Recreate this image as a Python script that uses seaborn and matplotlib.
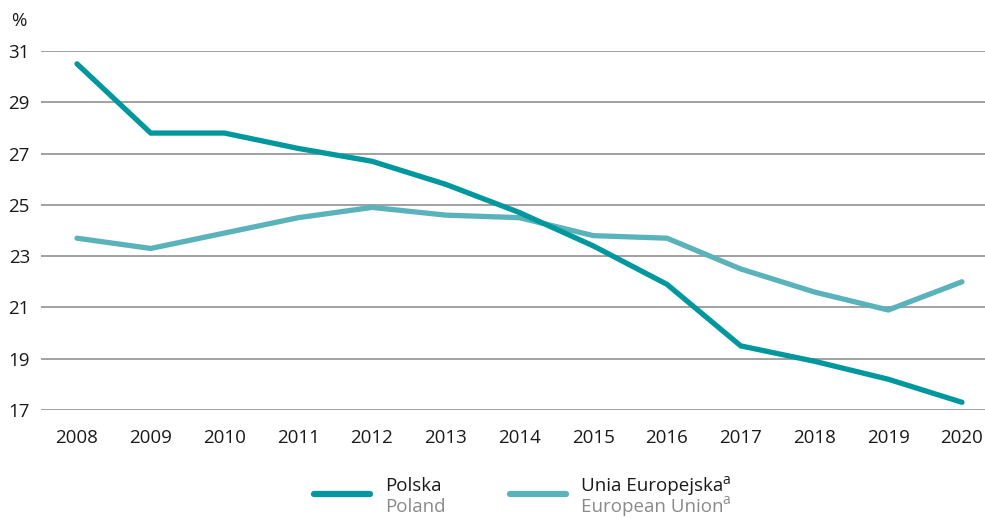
import matplotlib
matplotlib.use("Agg")
import matplotlib.pyplot as plt
import seaborn as sns
import pandas as pd
from matplotlib.lines import Line2D

years = list(range(2008, 2021))
poland = [30.5, 27.8, 27.8, 27.2, 26.7, 25.8, 24.7, 23.4, 21.9, 19.5, 18.9, 18.2, 17.3]
eu = [23.7, 23.3, 23.9, 24.5, 24.9, 24.6, 24.5, 23.8, 23.7, 22.5, 21.6, 20.9, 22.0]
y_ticks = [17, 19, 21, 23, 25, 27, 29, 31]

c_pl = "#00979e"
c_eu = "#5ab3bb"

df = pd.DataFrame({
    "year": years * 2,
    "value": poland + eu,
    "series": ["Polska"] * len(years) + ["Unia Europejska"] * len(years),
})

sns.set_style("white")
plt.rcParams["font.family"] = ["Open Sans", "DejaVu Sans"]
FS = 13.5

fig = plt.figure(figsize=(9.85, 5.18), dpi=100)
ax = fig.add_axes([41 / 985, 1 - 410 / 518, 944 / 985, 359 / 518])

sns.lineplot(data=df, x="year", y="value", hue="series",
             palette={"Polska": c_pl, "Unia Europejska": c_eu},
             hue_order=["Unia Europejska", "Polska"],
             linewidth=3.8, legend=False, ax=ax,
             solid_capstyle="round", solid_joinstyle="miter")

ax.set_xlim(2007.512, 2020.312)
ax.set_ylim(17, 31)
ax.set_yticks(y_ticks)
ax.set_xticks(years)
ax.set_xticklabels([str(y) for y in years])
ax.set_xlabel("")
ax.set_ylabel("")
for g in y_ticks:
    ax.axhline(g, color="#9a9a9a", linewidth=1.3, zorder=0)
for s in ax.spines.values():
    s.set_visible(False)
ax.tick_params(axis="both", length=0, labelsize=FS, colors="#1a1a1a")
ax.tick_params(axis="y", pad=8)
ax.tick_params(axis="x", pad=14)
for lbl in ax.get_yticklabels():
    lbl.set_horizontalalignment("right")

fig.text(19 / 985, 1 - 21 / 518, "%", ha="center", va="center",
         fontsize=FS, color="#1a1a1a")

# Legend
def legend_entry(x0, color, pl_text, en_text, sup=False):
    fig.add_artist(Line2D([x0 / 985, (x0 + 56) / 985], [1 - 494 / 518] * 2,
                          color=color, linewidth=4.5, solid_capstyle="round",
                          transform=fig.transFigure))
    t1 = fig.text((x0 + 71) / 985, 1 - 486 / 518, pl_text, ha="left",
                  va="center", fontsize=FS, color="#1a1a1a")
    t2 = fig.text((x0 + 71) / 985, 1 - 507 / 518, en_text, ha="left",
                  va="center", fontsize=FS, color="#8a8a8a")
    if sup:
        fig.canvas.draw()
        r = fig.canvas.get_renderer()
        for t, col, yy in ((t1, "#1a1a1a", 480), (t2, "#8a8a8a", 501)):
            bb = t.get_window_extent(r)
            fig.text(bb.x1 / fig.bbox.width - 0.001, 1 - yy / 518, "a",
                     ha="left", va="center", fontsize=10, color=col)

legend_entry(314, c_pl, "Polska", "Poland")
legend_entry(510, c_eu, "Unia Europejska", "European Union", sup=True)

fig.savefig("out.png", dpi=100)
